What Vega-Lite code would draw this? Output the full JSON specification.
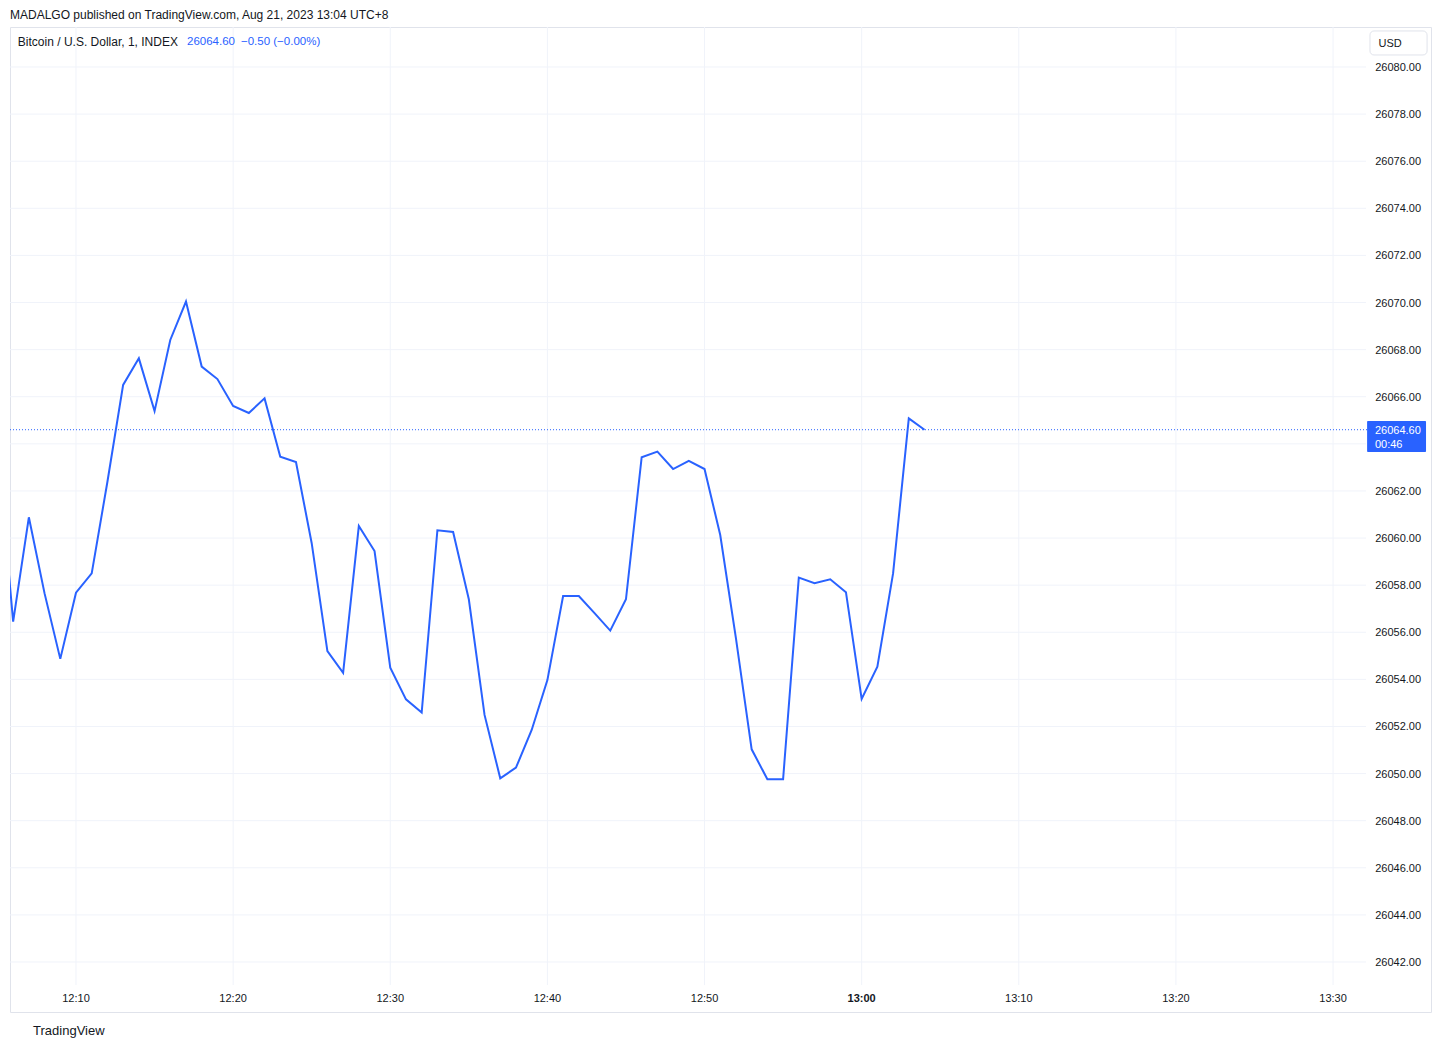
{
  "$schema": "https://vega.github.io/schema/vega-lite/v6.json",
  "width": 1421,
  "height": 985,
  "autosize": {"type": "none"},
  "padding": {"left": 10, "top": 27, "right": 10, "bottom": 36},
  "background": "white",
  "config": {"view": {"stroke": "#e0e3eb", "strokeWidth": 1}, "font": "Liberation Sans"},
  "datasets": {
    "one": [{}],
    "prices": [
      {"t": "2023-08-21T12:05:00", "p": 26064.0},
      {"t": "2023-08-21T12:06:00", "p": 26056.45},
      {"t": "2023-08-21T12:07:00", "p": 26060.88},
      {"t": "2023-08-21T12:08:00", "p": 26057.65},
      {"t": "2023-08-21T12:09:00", "p": 26054.87},
      {"t": "2023-08-21T12:10:00", "p": 26057.68},
      {"t": "2023-08-21T12:11:00", "p": 26058.5},
      {"t": "2023-08-21T12:12:00", "p": 26062.39},
      {"t": "2023-08-21T12:13:00", "p": 26066.5},
      {"t": "2023-08-21T12:14:00", "p": 26067.63},
      {"t": "2023-08-21T12:15:00", "p": 26065.39},
      {"t": "2023-08-21T12:16:00", "p": 26068.41},
      {"t": "2023-08-21T12:17:00", "p": 26070.04},
      {"t": "2023-08-21T12:18:00", "p": 26067.28},
      {"t": "2023-08-21T12:19:00", "p": 26066.75},
      {"t": "2023-08-21T12:20:00", "p": 26065.61},
      {"t": "2023-08-21T12:21:00", "p": 26065.31},
      {"t": "2023-08-21T12:22:00", "p": 26065.93},
      {"t": "2023-08-21T12:23:00", "p": 26063.45},
      {"t": "2023-08-21T12:24:00", "p": 26063.23},
      {"t": "2023-08-21T12:25:00", "p": 26059.78},
      {"t": "2023-08-21T12:26:00", "p": 26055.2},
      {"t": "2023-08-21T12:27:00", "p": 26054.28},
      {"t": "2023-08-21T12:28:00", "p": 26060.51},
      {"t": "2023-08-21T12:29:00", "p": 26059.45},
      {"t": "2023-08-21T12:30:00", "p": 26054.5},
      {"t": "2023-08-21T12:31:00", "p": 26053.15},
      {"t": "2023-08-21T12:32:00", "p": 26052.59},
      {"t": "2023-08-21T12:33:00", "p": 26060.33},
      {"t": "2023-08-21T12:34:00", "p": 26060.26},
      {"t": "2023-08-21T12:35:00", "p": 26057.4},
      {"t": "2023-08-21T12:36:00", "p": 26052.49},
      {"t": "2023-08-21T12:37:00", "p": 26049.8},
      {"t": "2023-08-21T12:38:00", "p": 26050.25},
      {"t": "2023-08-21T12:39:00", "p": 26051.85},
      {"t": "2023-08-21T12:40:00", "p": 26053.97},
      {"t": "2023-08-21T12:41:00", "p": 26057.54},
      {"t": "2023-08-21T12:42:00", "p": 26057.54},
      {"t": "2023-08-21T12:43:00", "p": 26056.81},
      {"t": "2023-08-21T12:44:00", "p": 26056.07},
      {"t": "2023-08-21T12:45:00", "p": 26057.4},
      {"t": "2023-08-21T12:46:00", "p": 26063.43},
      {"t": "2023-08-21T12:47:00", "p": 26063.67},
      {"t": "2023-08-21T12:48:00", "p": 26062.93},
      {"t": "2023-08-21T12:49:00", "p": 26063.28},
      {"t": "2023-08-21T12:50:00", "p": 26062.93},
      {"t": "2023-08-21T12:51:00", "p": 26060.13},
      {"t": "2023-08-21T12:52:00", "p": 26055.74},
      {"t": "2023-08-21T12:53:00", "p": 26051.03},
      {"t": "2023-08-21T12:54:00", "p": 26049.76},
      {"t": "2023-08-21T12:55:00", "p": 26049.76},
      {"t": "2023-08-21T12:56:00", "p": 26058.32},
      {"t": "2023-08-21T12:57:00", "p": 26058.08},
      {"t": "2023-08-21T12:58:00", "p": 26058.25},
      {"t": "2023-08-21T12:59:00", "p": 26057.7},
      {"t": "2023-08-21T13:00:00", "p": 26053.17},
      {"t": "2023-08-21T13:01:00", "p": 26054.54},
      {"t": "2023-08-21T13:02:00", "p": 26058.5},
      {"t": "2023-08-21T13:03:00", "p": 26065.08},
      {"t": "2023-08-21T13:04:00", "p": 26064.6}
    ],
    "vgrid": [
      {"t": "2023-08-21T12:10:00"}, {"t": "2023-08-21T12:20:00"}, {"t": "2023-08-21T12:30:00"},
      {"t": "2023-08-21T12:40:00"}, {"t": "2023-08-21T12:50:00"}, {"t": "2023-08-21T13:00:00"},
      {"t": "2023-08-21T13:10:00"}, {"t": "2023-08-21T13:20:00"}, {"t": "2023-08-21T13:30:00"}
    ],
    "hgrid": [
      {"p": 26042}, {"p": 26044}, {"p": 26046}, {"p": 26048}, {"p": 26050}, {"p": 26052},
      {"p": 26054}, {"p": 26056}, {"p": 26058}, {"p": 26060}, {"p": 26062}, {"p": 26064},
      {"p": 26066}, {"p": 26068}, {"p": 26070}, {"p": 26072}, {"p": 26074}, {"p": 26076},
      {"p": 26078}, {"p": 26080}
    ]
  },
  "layer": [
    {
      "data": {"name": "vgrid"},
      "mark": {"type": "rule", "color": "#f0f3fa", "strokeWidth": 1},
      "encoding": {
        "x": {"field": "t", "type": "temporal", "axis": null,
              "scale": {"domain": [{"year": 2023, "month": 8, "date": 21, "hours": 12, "minutes": 5, "seconds": 48},
                                   {"year": 2023, "month": 8, "date": 21, "hours": 13, "minutes": 36, "seconds": 14}]}},
        "y": {"datum": 26041.02, "type": "quantitative", "axis": null,
              "scale": {"domain": [26039.877, 26081.698], "nice": false, "zero": false}},
        "y2": {"datum": 26081.698}
      }
    },
    {
      "data": {"name": "hgrid"},
      "mark": {"type": "rule", "color": "#f0f3fa", "strokeWidth": 1},
      "encoding": {
        "y": {"field": "p", "type": "quantitative", "axis": null},
        "x": {"datum": {"year": 2023, "month": 8, "date": 21, "hours": 12, "minutes": 5, "seconds": 48}, "type": "temporal", "axis": null},
        "x2": {"datum": {"year": 2023, "month": 8, "date": 21, "hours": 13, "minutes": 32, "seconds": 6}}
      }
    },
    {
      "data": {"name": "hgrid"},
      "transform": [{"filter": "datum.p != 26064"}],
      "mark": {"type": "text", "color": "#131722", "fontSize": 11, "align": "right", "baseline": "middle", "dy": 1, "font": "Liberation Sans"},
      "encoding": {
        "y": {"field": "p", "type": "quantitative", "axis": null},
        "x": {"datum": {"year": 2023, "month": 8, "date": 21, "hours": 13, "minutes": 35, "seconds": 36}, "type": "temporal", "axis": null},
        "text": {"field": "p", "type": "quantitative", "format": ".2f"}
      }
    },
    {
      "data": {"name": "vgrid"},
      "transform": [{"filter": {"not": {"field": "t", "equal": {"year": 2023, "month": 8, "date": 21, "hours": 13, "minutes": 0}}}}],
      "mark": {"type": "text", "color": "#131722", "fontSize": 11, "align": "center", "baseline": "middle", "dy": 1, "font": "Liberation Sans"},
      "encoding": {
        "x": {"field": "t", "type": "temporal", "axis": null},
        "y": {"datum": 26040.472, "type": "quantitative", "axis": null},
        "text": {"field": "t", "type": "temporal", "format": "%H:%M"}
      }
    },
    {
      "data": {"name": "vgrid"},
      "transform": [{"filter": {"field": "t", "equal": {"year": 2023, "month": 8, "date": 21, "hours": 13, "minutes": 0}}}],
      "mark": {"type": "text", "color": "#131722", "fontSize": 11, "fontWeight": "bold", "align": "center", "baseline": "middle", "dy": 1, "font": "Liberation Sans"},
      "encoding": {
        "x": {"field": "t", "type": "temporal", "axis": null},
        "y": {"datum": 26040.472, "type": "quantitative", "axis": null},
        "text": {"field": "t", "type": "temporal", "format": "%H:%M"}
      }
    },
    {
      "data": {"name": "prices"},
      "mark": {"type": "line", "color": "#2962ff", "strokeWidth": 2, "clip": true},
      "encoding": {
        "x": {"field": "t", "type": "temporal", "axis": null},
        "y": {"field": "p", "type": "quantitative", "axis": null}
      }
    },
    {
      "data": {"name": "one"},
      "mark": {"type": "rule", "color": "#2962ff", "strokeWidth": 1, "strokeDash": [1, 2]},
      "encoding": {
        "y": {"datum": 26064.6, "type": "quantitative", "axis": null},
        "x": {"datum": {"year": 2023, "month": 8, "date": 21, "hours": 12, "minutes": 5, "seconds": 48}, "type": "temporal", "axis": null},
        "x2": {"datum": {"year": 2023, "month": 8, "date": 21, "hours": 13, "minutes": 32, "seconds": 10}}
      }
    },
    {
      "data": {"name": "one"},
      "mark": {"type": "rect", "color": "#2962ff", "cornerRadius": 1},
      "encoding": {
        "x": {"datum": {"year": 2023, "month": 8, "date": 21, "hours": 13, "minutes": 32, "seconds": 10}, "type": "temporal", "axis": null},
        "x2": {"datum": {"year": 2023, "month": 8, "date": 21, "hours": 13, "minutes": 35, "seconds": 55}},
        "y": {"datum": 26064.97, "type": "quantitative", "axis": null},
        "y2": {"datum": 26063.65}
      }
    },
    {
      "data": {"name": "one"},
      "mark": {"type": "text", "color": "white", "fontSize": 11, "align": "left", "baseline": "middle", "dy": 1, "font": "Liberation Sans"},
      "encoding": {
        "x": {"datum": {"year": 2023, "month": 8, "date": 21, "hours": 13, "minutes": 32, "seconds": 40}, "type": "temporal", "axis": null},
        "y": {"datum": 26064.6, "type": "quantitative", "axis": null},
        "text": {"value": "26064.60"}
      }
    },
    {
      "data": {"name": "one"},
      "mark": {"type": "text", "color": "white", "fontSize": 11, "align": "left", "baseline": "middle", "dy": 1, "font": "Liberation Sans"},
      "encoding": {
        "x": {"datum": {"year": 2023, "month": 8, "date": 21, "hours": 13, "minutes": 32, "seconds": 40}, "type": "temporal", "axis": null},
        "y": {"datum": 26064.0, "type": "quantitative", "axis": null},
        "text": {"value": "00:46"}
      }
    },
    {
      "data": {"name": "one"},
      "mark": {"type": "rect", "fill": "white", "stroke": "#e0e3eb", "strokeWidth": 1, "cornerRadius": 4},
      "encoding": {
        "x": {"datum": {"year": 2023, "month": 8, "date": 21, "hours": 13, "minutes": 32, "seconds": 21}, "type": "temporal", "axis": null},
        "x2": {"datum": {"year": 2023, "month": 8, "date": 21, "hours": 13, "minutes": 35, "seconds": 59}},
        "y": {"datum": 26081.53, "type": "quantitative", "axis": null},
        "y2": {"datum": 26080.51}
      }
    },
    {
      "data": {"name": "one"},
      "mark": {"type": "text", "color": "#131722", "fontSize": 11, "align": "center", "baseline": "middle", "dy": 1, "font": "Liberation Sans"},
      "encoding": {
        "x": {"datum": {"year": 2023, "month": 8, "date": 21, "hours": 13, "minutes": 33, "seconds": 38}, "type": "temporal", "axis": null},
        "y": {"datum": 26081.02, "type": "quantitative", "axis": null},
        "text": {"value": "USD"}
      }
    },
    {
      "data": {"name": "one"},
      "mark": {"type": "text", "color": "#131722", "fontSize": 12, "align": "left", "baseline": "middle", "dy": 1, "font": "Liberation Sans"},
      "encoding": {
        "x": {"datum": {"year": 2023, "month": 8, "date": 21, "hours": 12, "minutes": 5, "seconds": 48}, "type": "temporal", "axis": null},
        "y": {"datum": 26082.25, "type": "quantitative", "axis": null},
        "text": {"value": "MADALGO published on TradingView.com, Aug 21, 2023 13:04 UTC+8"}
      }
    },
    {
      "data": {"name": "one"},
      "mark": {"type": "text", "color": "#131722", "fontSize": 12, "align": "left", "baseline": "middle", "dy": 1, "font": "Liberation Sans"},
      "encoding": {
        "x": {"datum": {"year": 2023, "month": 8, "date": 21, "hours": 12, "minutes": 6, "seconds": 18}, "type": "temporal", "axis": null},
        "y": {"datum": 26081.104, "type": "quantitative", "axis": null},
        "text": {"value": "Bitcoin / U.S. Dollar, 1, INDEX"}
      }
    },
    {
      "data": {"name": "one"},
      "mark": {"type": "text", "color": "#2962ff", "fontSize": 11.5, "align": "left", "baseline": "middle", "dy": 1, "font": "Liberation Sans"},
      "encoding": {
        "x": {"datum": {"year": 2023, "month": 8, "date": 21, "hours": 12, "minutes": 17, "seconds": 4}, "type": "temporal", "axis": null},
        "y": {"datum": 26081.104, "type": "quantitative", "axis": null},
        "text": {"value": "26064.60"}
      }
    },
    {
      "data": {"name": "one"},
      "mark": {"type": "text", "color": "#2962ff", "fontSize": 11.5, "align": "left", "baseline": "middle", "dy": 1, "font": "Liberation Sans"},
      "encoding": {
        "x": {"datum": {"year": 2023, "month": 8, "date": 21, "hours": 12, "minutes": 20, "seconds": 30}, "type": "temporal", "axis": null},
        "y": {"datum": 26081.104, "type": "quantitative", "axis": null},
        "text": {"value": "−0.50 (−0.00%)"}
      }
    },
    {
      "data": {"name": "one"},
      "mark": {"type": "text", "color": "#131722", "fontSize": 13, "align": "left", "baseline": "middle", "dy": 1, "font": "Liberation Sans"},
      "encoding": {
        "x": {"datum": {"year": 2023, "month": 8, "date": 21, "hours": 12, "minutes": 7, "seconds": 16}, "type": "temporal", "axis": null},
        "y": {"datum": 26039.113, "type": "quantitative", "axis": null},
        "text": {"value": "TradingView"}
      }
    }
  ]
}
